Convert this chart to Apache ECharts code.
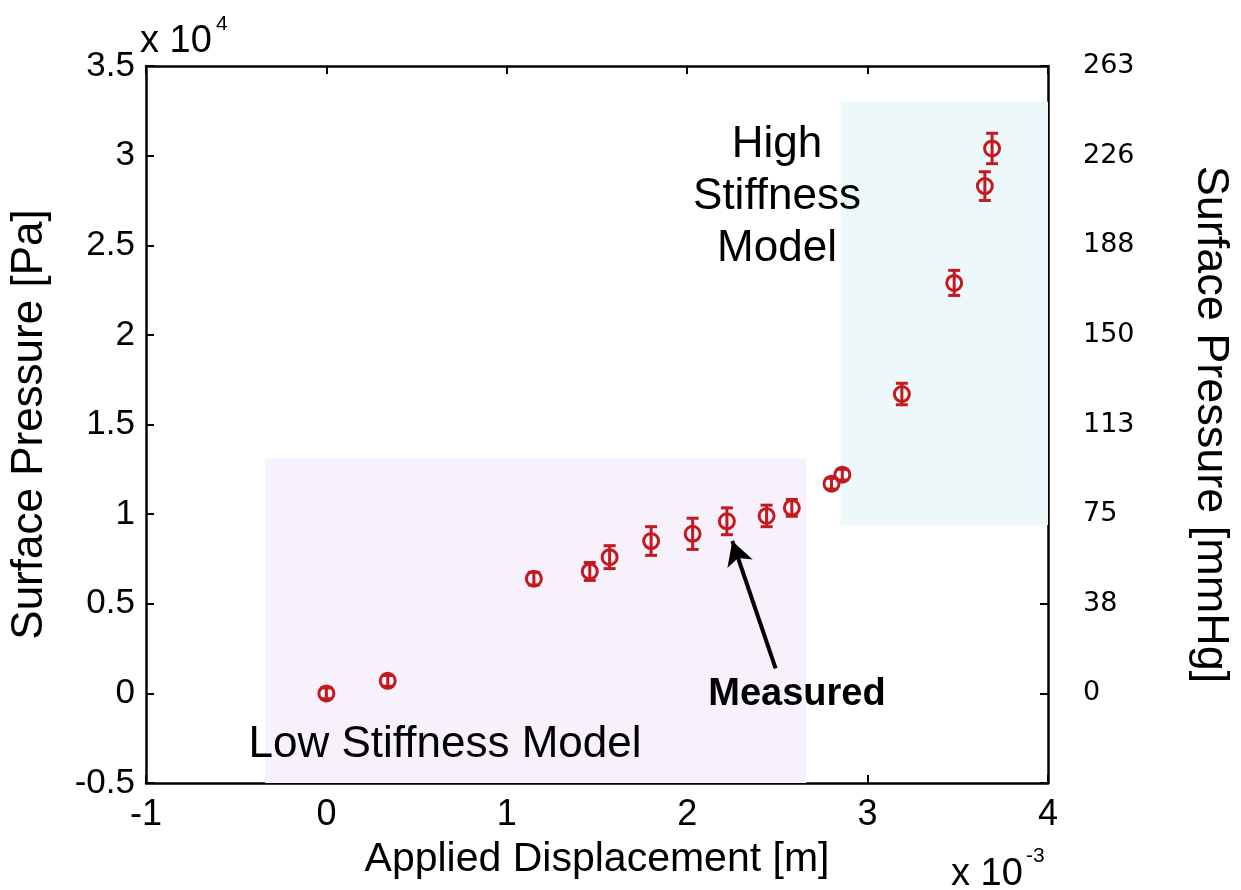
<!DOCTYPE html>
<html>
<head>
<meta charset="utf-8">
<script src="https://cdn.jsdelivr.net/npm/echarts@6/dist/echarts.min.js"></script>
<style>
html,body{margin:0;padding:0;background:#fff;}
#chart{width:1241px;height:890px;}
</style>
</head>
<body>
<div id="chart"></div>
<script>
// displacement in units of 1e-3 m, pressure in units of 1e4 Pa
const displacement = [0, 0.34, 1.15, 1.46, 1.57, 1.80, 2.03, 2.22, 2.44, 2.58, 2.80, 2.86, 3.19, 3.48, 3.65, 3.69];
const pressure     = [0, 0.07, 0.64, 0.68, 0.76, 0.85, 0.89, 0.96, 0.99, 1.035, 1.17, 1.22, 1.67, 2.29, 2.83, 3.04];
const pressureErr  = [0.03, 0.03, 0.035, 0.05, 0.064, 0.08, 0.087, 0.075, 0.06, 0.047, 0.03, 0.03, 0.06, 0.07, 0.08, 0.085];

// right axis ticks (mmHg) at -0.5 .. 3.5 of left axis
const mmHgLabels = ['', '0', '38', '75', '113', '150', '188', '226', '263'];

// shaded model regions [xFrom, yFrom, xTo, yTo]
const lowRegion  = [-0.34, -0.5, 2.66, 1.31];
const highRegion = [2.85, 0.94, 4, 3.3];

// arrow to "Measured"
const arrowFrom = [2.49, 0.14];
const arrowTo   = [2.25, 0.85];

const RED = '#c41a1f';
const FONT = 'Liberation Sans, Arial, sans-serif';

var myChart = echarts.init(document.getElementById('chart'));

var points = displacement.map(function (x, i) { return [x, pressure[i]]; });
var bars = displacement.map(function (x, i) { return [x, pressure[i] - pressureErr[i], pressure[i] + pressureErr[i]]; });

function renderErr(params, api) {
    var x = api.value(0);
    var lo = api.coord([x, api.value(1)]);
    var hi = api.coord([x, api.value(2)]);
    var hw = 6;
    var st = { stroke: RED, lineWidth: 3 };
    return {
        type: 'group',
        children: [
            { type: 'line', shape: { x1: lo[0], y1: lo[1], x2: hi[0], y2: hi[1] }, style: st },
            { type: 'line', shape: { x1: lo[0] - hw, y1: lo[1], x2: lo[0] + hw, y2: lo[1] }, style: st },
            { type: 'line', shape: { x1: hi[0] - hw, y1: hi[1], x2: hi[0] + hw, y2: hi[1] }, style: st }
        ]
    };
}

var axisLine = { show: true, onZero: false, lineStyle: { color: '#000', width: 2.5 } };
var axisTick = { show: true, inside: true, length: 8, lineStyle: { color: '#000', width: 2 } };

function label(text, x, y, size, extra) {
    var st = { text: text, x: x, y: y, fontSize: size, fontFamily: FONT, fill: '#000', align: 'left', verticalAlign: 'middle' };
    for (var k in extra) st[k] = extra[k];
    return { type: 'text', z: 100, style: st };
}

var options = {
    animation: false,
    grid: { left: 145, right: 192, top: 66, bottom: 107 },
    xAxis: [
        {
            type: 'value', position: 'bottom', min: -1, max: 4, interval: 1,
            axisLine: axisLine, axisTick: axisTick, splitLine: { show: false },
            axisLabel: { fontSize: 36, fontFamily: FONT, color: '#000', margin: 14 },
            name: 'Applied Displacement [m]', nameLocation: 'middle', nameGap: 56,
            nameTextStyle: { fontSize: 41, fontFamily: FONT, color: '#000' }
        },
        {
            type: 'value', position: 'top', min: -1, max: 4, interval: 1,
            axisLine: axisLine, axisTick: axisTick, splitLine: { show: false },
            axisLabel: { show: false }
        }
    ],
    yAxis: [
        {
            type: 'value', position: 'left', min: -0.5, max: 3.5, interval: 0.5,
            axisLine: axisLine, axisTick: axisTick, splitLine: { show: false },
            axisLabel: { fontSize: 35, fontFamily: FONT, color: '#000', margin: 11 },
            name: 'Surface Pressure [Pa]', nameLocation: 'middle', nameGap: 94, nameRotate: 90,
            nameTextStyle: { fontSize: 44, fontFamily: FONT, color: '#000' }
        },
        {
            type: 'value', position: 'right', min: -0.5, max: 3.5, interval: 0.5,
            axisLine: axisLine, axisTick: axisTick, splitLine: { show: false },
            axisLabel: {
                fontSize: 27, fontFamily: 'DejaVu Sans, Verdana, sans-serif', color: '#000', margin: 35,
                formatter: function (v) { return mmHgLabels[Math.round((v + 0.5) / 0.5)]; }
            },
            name: 'Surface Pressure [mmHg]', nameLocation: 'middle', nameGap: 140, nameRotate: -90,
            nameTextStyle: { fontSize: 45, fontFamily: FONT, color: '#000' }
        }
    ],
    series: [
        {
            type: 'custom',
            renderItem: renderErr,
            data: bars,
            z: 3,
            markArea: {
                silent: true,
                data: [
                    [{ coord: [lowRegion[0], lowRegion[1]], itemStyle: { color: '#f6f1fa' } }, { coord: [lowRegion[2], lowRegion[3]] }],
                    [{ coord: [highRegion[0], highRegion[1]], itemStyle: { color: '#edf8fb' } }, { coord: [highRegion[2], highRegion[3]] }]
                ]
            }
        },
        {
            type: 'scatter',
            data: points,
            symbol: 'circle',
            symbolSize: 15,
            z: 4,
            itemStyle: { color: 'rgba(0,0,0,0)', borderColor: RED, borderWidth: 3, opacity: 1 },
            markLine: {
                silent: true,
                symbol: ['none', 'arrow'],
                symbolSize: [20, 24],
                label: { show: false },
                lineStyle: { color: '#000', width: 4, type: 'solid' },
                data: [[{ coord: arrowFrom }, { coord: arrowTo }]]
            }
        }
    ],
    graphic: [
        label('x 10', 140, 42, 38),
        label('4', 216, 24, 21),
        label('x 10', 951, 875, 38),
        label('-3', 1026, 856, 21),
        label('High\nStiffness\nModel', 777, 197, 44, { align: 'center', lineHeight: 52 }),
        label('Low Stiffness Model', 445, 745, 44, { align: 'center' }),
        label('Measured', 797, 695, 38, { align: 'center', fontWeight: 'bold' })
    ]
};

myChart.setOption(options);
</script>
</body>
</html>
